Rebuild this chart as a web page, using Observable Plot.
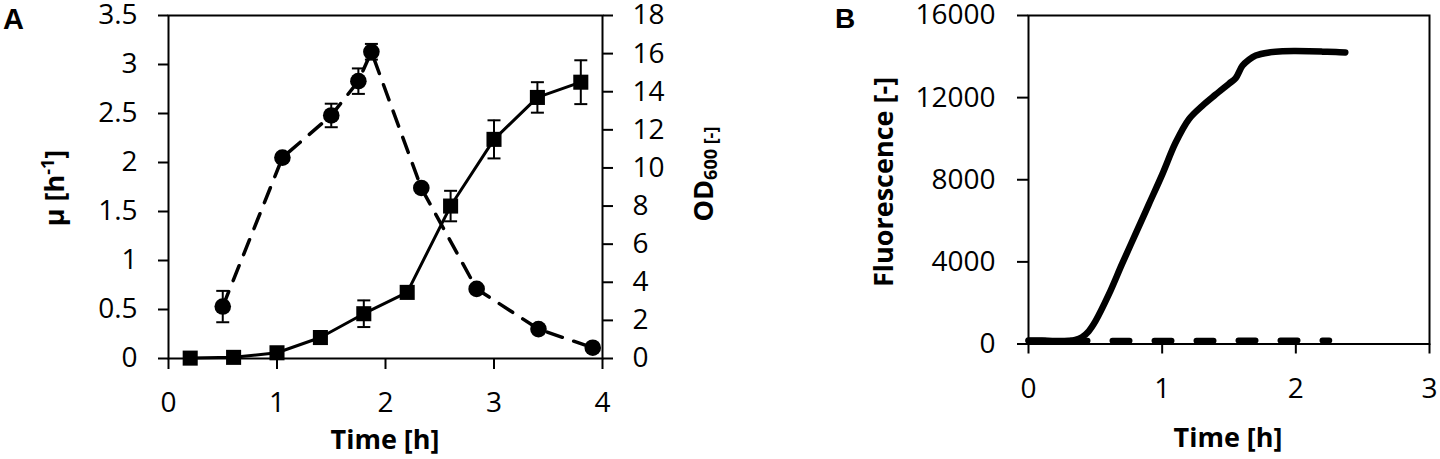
<!DOCTYPE html>
<html>
<head>
<meta charset="utf-8">
<script src="https://cdn.jsdelivr.net/npm/d3@7"></script>
<script src="https://cdn.jsdelivr.net/npm/@observablehq/plot@0.6"></script>
<style>
  body { margin: 0; background: #fff; }
  #wrap { position: relative; width: 1440px; height: 459px; overflow: hidden; background: #fff; }
  #wrap svg { position: absolute; top: 0; max-width: none; }
</style>
</head>
<body>
<div id="wrap"></div>
<script>
// ---------- Panel A data ----------
const odTime  = [0.2, 0.6, 1.0, 1.4, 1.8, 2.2, 2.6, 3.0, 3.4, 3.8];
const odValue = [0.02, 0.06, 0.3, 1.1, 2.35, 3.47, 8.0, 11.5, 13.7, 14.5];
const odError = [0, 0, 0, 0, 0.7, 0, 0.8, 1.0, 0.8, 1.15];

const muTime  = [0.5, 1.05, 1.5, 1.75, 1.87, 2.33, 2.84, 3.41, 3.91];
const muValue = [0.53, 2.05, 2.48, 2.83, 3.13, 1.74, 0.71, 0.30, 0.11];
const muError = [0.16, 0, 0.12, 0.13, 0.08, 0, 0, 0, 0];

const xTicksA  = [0, 1, 2, 3, 4];
const muTicks  = [0, 0.5, 1, 1.5, 2, 2.5, 3, 3.5];
const odTicks  = [0, 2, 4, 6, 8, 10, 12, 14, 16, 18];

// ---------- Panel B data ----------
const fluoTime  = [0, 0.1, 0.2, 0.3, 0.35, 0.4, 0.45, 0.5, 0.6, 0.7, 0.8, 0.9, 1.0, 1.1, 1.2, 1.3, 1.4, 1.5, 1.55, 1.6, 1.65, 1.7, 1.8, 1.9, 2.0, 2.1, 2.2, 2.3, 2.37];
const fluoValue = [170, 170, 150, 160, 200, 330, 620, 1100, 2400, 3900, 5350, 6800, 8250, 9800, 10950, 11600, 12150, 12680, 12950, 13550, 13850, 14050, 14200, 14260, 14270, 14260, 14240, 14220, 14200];
const ctrlTime  = [0, 0.5, 1.0, 1.5, 2.0, 2.25];
const ctrlValue = [160, 160, 160, 165, 165, 165];

const xTicksB = [0, 1, 2, 3];
const fluoTicks = [0, 4000, 8000, 12000, 16000];

// ---------- helpers ----------
const FONT = "'Open Sans', 'DejaVu Sans', sans-serif";
const TICK_FS = 28;
const TITLE_FS = 27;
const wrap = document.getElementById("wrap");

const capSymbol = {
  draw(context, size) {
    const w = Math.sqrt(size / Math.PI);
    context.moveTo(-w, 0);
    context.lineTo(w, 0);
  }
};

const muData = muTime.map((t, i) => ({t, v: muValue[i], e: muError[i]}));
const odData = odTime.map((t, i) => ({t, v: odValue[i], e: odError[i]}));
const muErr = muData.filter(d => d.e > 0);
const odErr = odData.filter(d => d.e > 0);

const styleBase = {fontFamily: FONT, fontSize: TICK_FS + "px", background: "transparent", color: "black", overflow: "visible"};

function errMarks(data) {
  return [
    Plot.ruleX(data, {x: "t", y1: d => d.v - d.e, y2: d => d.v + d.e, stroke: "black", strokeWidth: 2}),
    Plot.dot(data, {x: "t", y: d => d.v + d.e, symbol: capSymbol, r: 6.5, fill: "none", stroke: "black", strokeWidth: 2}),
    Plot.dot(data, {x: "t", y: d => d.v - d.e, symbol: capSymbol, r: 6.5, fill: "none", stroke: "black", strokeWidth: 2})
  ];
}

// ---------- Panel A ----------
const aW = 725;
const A = {width: aW, height: 459, marginLeft: 168, marginRight: aW - 602, marginTop: 15, marginBottom: 101};

const plotA1 = Plot.plot({
  ...A,
  style: styleBase,
  x: {domain: [0, 4]},
  y: {domain: [0, 3.5]},
  marks: [
    Plot.frame({stroke: "black", strokeWidth: 2}),
    Plot.axisX({ticks: xTicksA, tickSize: 11, tickPadding: 23, tickFormat: d => String(d), fontSize: TICK_FS, strokeWidth: 2, label: null}),
    Plot.axisY({ticks: muTicks, tickSize: 10, tickPadding: 21, tickFormat: d => String(d), fontSize: TICK_FS, strokeWidth: 2, label: null}),
    ...errMarks(muErr),
    Plot.line(muData, {x: "t", y: "v", stroke: "black", strokeWidth: 3.5, strokeDasharray: "16,12"}),
    Plot.dot(muData, {x: "t", y: "v", r: 8.3, fill: "black", stroke: "none"})
  ]
});

const plotA2 = Plot.plot({
  ...A,
  style: styleBase,
  x: {domain: [0, 4], axis: null},
  y: {domain: [0, 18]},
  marks: [
    Plot.axisY({anchor: "right", ticks: odTicks, tickSize: 10, tickPadding: 20, tickFormat: d => String(d), fontSize: TICK_FS, strokeWidth: 2, label: null}),
    ...errMarks(odErr),
    Plot.line(odData, {x: "t", y: "v", stroke: "black", strokeWidth: 3}),
    Plot.dot(odData, {x: "t", y: "v", symbol: "square", r: 8.5, fill: "black", stroke: "none"})
  ]
});

// ---------- Panel B ----------
const bLeft = 725;
const bW = 1440 - bLeft;
const fluoData = fluoTime.map((t, i) => ({t, v: fluoValue[i]}));
const ctrlData = ctrlTime.map((t, i) => ({t, v: ctrlValue[i]}));

const plotB = Plot.plot({
  width: bW, height: 459, marginLeft: 1028 - bLeft, marginRight: 11, marginTop: 15, marginBottom: 115.5,
  style: styleBase,
  x: {domain: [0, 3]},
  y: {domain: [0, 16000]},
  marks: [
    Plot.frame({stroke: "black", strokeWidth: 2}),
    Plot.axisX({ticks: xTicksB, tickSize: 10, tickPadding: 24, tickFormat: d => String(d), fontSize: TICK_FS, strokeWidth: 2, label: null}),
    Plot.axisY({ticks: fluoTicks, tickSize: 11, tickPadding: 22, tickFormat: d => String(d), fontSize: TICK_FS, strokeWidth: 2, label: null}),
    Plot.line(ctrlData, {x: "t", y: "v", stroke: "black", strokeWidth: 6, strokeDasharray: "17,25", strokeLinecap: "round"}),
    Plot.line(fluoData, {x: "t", y: "v", stroke: "black", strokeWidth: 6.5, curve: "catmull-rom", strokeLinecap: "round", strokeLinejoin: "round"})
  ]
});

plotA1.style.left = "0px";
plotA2.style.left = "0px";
plotB.style.left = bLeft + "px";
wrap.appendChild(plotA1);
wrap.appendChild(plotB);
wrap.appendChild(plotA2);

// ---------- titles and panel letters ----------
function addText(svg, {x, y, rotate = 0, anchor = "middle", size = TITLE_FS, family = FONT, parts}) {
  const t = d3.select(svg).append("text")
    .attr("transform", `translate(${x},${y}) rotate(${rotate})`)
    .attr("text-anchor", anchor)
    .attr("font-family", family)
    .attr("font-weight", "bold")
    .attr("font-size", size)
    .attr("fill", "black");
  for (const p of parts) {
    const s = t.append("tspan").text(p.text);
    if (p.size) s.attr("font-size", p.size);
    if (p.dy) s.attr("dy", p.dy);
  }
  return t;
}

const LETTER_FONT = "'Liberation Sans', Arial, sans-serif";
addText(plotA1, {x: 3, y: 29, anchor: "start", size: 29, family: LETTER_FONT, parts: [{text: "A"}]});
addText(plotA1, {x: 385, y: 449, parts: [{text: "Time [h]"}]});
addText(plotA1, {x: 64, y: 188, rotate: -90, parts: [{text: "μ [h"}, {text: "-1", size: 18, dy: -10}, {text: "]", size: TITLE_FS, dy: 10}]});
addText(plotA2, {x: 713, y: 174, rotate: -90, parts: [{text: "OD"}, {text: "600 [-]", size: 18, dy: 4}]});

addText(plotB, {x: 835 - bLeft, y: 28, anchor: "start", size: 28, family: LETTER_FONT, parts: [{text: "B"}]});
addText(plotB, {x: 1228 - bLeft, y: 447, parts: [{text: "Time [h]"}]});
addText(plotB, {x: 893 - bLeft, y: 182, rotate: -90, parts: [{text: "Fluorescence [-]"}]});
</script>
</body>
</html>
